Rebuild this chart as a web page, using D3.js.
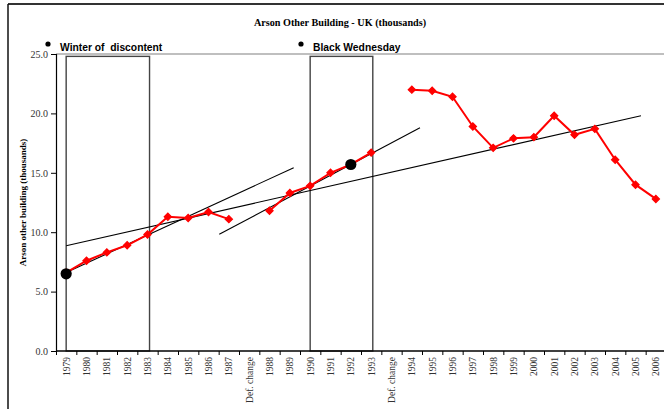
<!DOCTYPE html>
<html>
<head>
<meta charset="utf-8">
<script src="https://cdn.jsdelivr.net/npm/d3@7"></script>
<style>
  html, body { margin: 0; padding: 0; background: #fff; }
  svg { display: block; }
</style>
</head>
<body>
<svg id="chart" width="664" height="409"></svg>
<script>
// ---- data ----
const categories = ["1979","1980","1981","1982","1983","1984","1985","1986","1987","Def. change",
  "1988","1989","1990","1991","1992","1993","Def. change",
  "1994","1995","1996","1997","1998","1999","2000","2001","2002","2003","2004","2005","2006"];
const arsonValues = [6.6, 7.6, 8.3, 8.9, 9.8, 11.3, 11.2, 11.7, 11.1, null,
  11.8, 13.3, 13.9, 15.0, 15.7, 16.7, null,
  22.0, 21.9, 21.4, 18.9, 17.1, 17.9, 18.0, 19.8, 18.2, 18.7, 16.1, 14.0, 12.8];
const yTicks = [0, 5, 10, 15, 20, 25];
// events: category and value of the black marker
const eventNames = ["Winter of  discontent", "Black Wednesday"];
const eventCategory = ["1979", "1992"];
const eventValues = [6.5, 15.7];
// highlighted periods (category positions)
const periodStart = [0, 12];
const periodEnd = [4.1, 15.08];
const periodTop = 24.8;
// trend lines: category position / value at start and end
const trendStartPos = [0, 0, 7.53];
const trendStartVal = [8.86, 6.6, 9.82];
const trendEndPos = [28.27, 11.19, 17.4];
const trendEndVal = [19.8, 15.43, 18.8];

// ---- layout ----
const svg = d3.select("#chart");
const plotLeft = 56, plotTop = 54, plotBottom = 351;
const x = d3.scaleLinear().domain([-0.5, categories.length - 0.5]).range([plotLeft, 666]);
const y = d3.scaleLinear().domain([0, 25]).range([plotBottom, plotTop]);

// outer frame
svg.append("line").attr("x1", 8).attr("x2", 664).attr("y1", 4).attr("y2", 4)
  .attr("stroke", "#333").attr("stroke-width", 2);
svg.append("line").attr("x1", 8).attr("x2", 8).attr("y1", 4).attr("y2", 409)
  .attr("stroke", "#111").attr("stroke-width", 1.5);

// title
svg.append("text").attr("x", 340).attr("y", 26).attr("text-anchor", "middle")
  .attr("font-family", "Liberation Serif, Times New Roman, serif").attr("font-weight", "bold")
  .attr("font-size", 10.2).attr("fill", "#000").text("Arson Other Building - UK (thousands)");

// legend
const legendX = [48, 301];
eventNames.forEach((n, i) => {
  svg.append("circle").attr("cx", legendX[i]).attr("cy", 44).attr("r", 2.6).attr("fill", "#000");
  svg.append("text").attr("x", legendX[i] + 12).attr("y", 51)
    .attr("font-family", "Liberation Sans, Arial, sans-serif").attr("font-weight", "bold")
    .attr("font-size", 10.3).attr("fill", "#000")
    .style("white-space", "pre").text(n);
});

// plot top border
svg.append("line").attr("x1", plotLeft).attr("x2", 664).attr("y1", plotTop).attr("y2", plotTop)
  .attr("stroke", "#aaa").attr("stroke-width", 1.5);

// y axis
const yAxis = d3.axisLeft(y).tickValues(yTicks).tickFormat(d3.format(".1f")).tickSize(5).tickPadding(3);
const gy = svg.append("g").attr("transform", `translate(${plotLeft},0)`).call(yAxis);
gy.select(".domain").attr("stroke", "#000").attr("stroke-width", 1.2);
gy.selectAll(".tick line").attr("stroke", "#000");
gy.selectAll(".tick text").attr("font-family", "Liberation Serif, Times New Roman, serif")
  .attr("font-size", 10).attr("fill", "#333");

// y label
svg.append("text").attr("transform", `translate(23,${(plotTop + plotBottom) / 2}) rotate(-90)`)
  .attr("text-anchor", "middle").attr("dominant-baseline", "central")
  .attr("font-family", "Liberation Serif, Times New Roman, serif").attr("font-weight", "bold")
  .attr("font-size", 9).attr("fill", "#000").text("Arson other building (thousands)");

// highlighted periods
periodStart.forEach((s, i) => {
  svg.append("rect").attr("x", x(s)).attr("y", y(periodTop))
    .attr("width", x(periodEnd[i]) - x(s)).attr("height", y(0) - y(periodTop))
    .attr("fill", "none").attr("stroke", "#444").attr("stroke-width", 1.4);
});

// x axis
const xAxis = d3.axisBottom(x).tickValues(d3.range(-0.5, categories.length, 1)).tickFormat("").tickSize(4);
const gx = svg.append("g").attr("transform", `translate(0,${plotBottom})`).call(xAxis);
gx.select(".domain").attr("stroke", "#000").attr("stroke-width", 1.5).attr("d", `M${plotLeft},0H664`);
gx.selectAll(".tick line").attr("stroke", "#000");
svg.append("g").selectAll("text").data(categories).join("text")
  .attr("transform", (d, i) => `translate(${x(i) + 3.5},357) rotate(-90)`)
  .attr("text-anchor", "end")
  .attr("font-family", "Liberation Serif, Times New Roman, serif")
  .attr("font-size", 9.5).attr("fill", "#333").text(d => d);

// trend lines
trendStartPos.forEach((s, i) => {
  svg.append("line").attr("x1", x(s)).attr("y1", y(trendStartVal[i]))
    .attr("x2", x(trendEndPos[i])).attr("y2", y(trendEndVal[i]))
    .attr("stroke", "#000").attr("stroke-width", 1.1);
});

// series line
const line = d3.line().defined(d => d != null).x((d, i) => x(i)).y(d => y(d));
svg.append("path").datum(arsonValues).attr("d", line)
  .attr("fill", "none").attr("stroke", "#ff0000").attr("stroke-width", 2);

// markers (square rotated 45° = even diamond)
const diamond = d3.symbol().type(d3.symbolSquare).size(26);
svg.append("g").selectAll("path").data(arsonValues.map((v, i) => [i, v]).filter(d => d[1] != null))
  .join("path").attr("d", diamond)
  .attr("transform", d => `translate(${x(d[0])},${y(d[1])}) rotate(45)`)
  .attr("fill", "#ff0000").attr("stroke", "#ff0000").attr("stroke-width", 1.2);

// event markers
eventCategory.forEach((c, i) => {
  svg.append("circle").attr("cx", x(categories.indexOf(c))).attr("cy", y(eventValues[i]))
    .attr("r", 5.6).attr("fill", "#000");
});
</script>
</body>
</html>
